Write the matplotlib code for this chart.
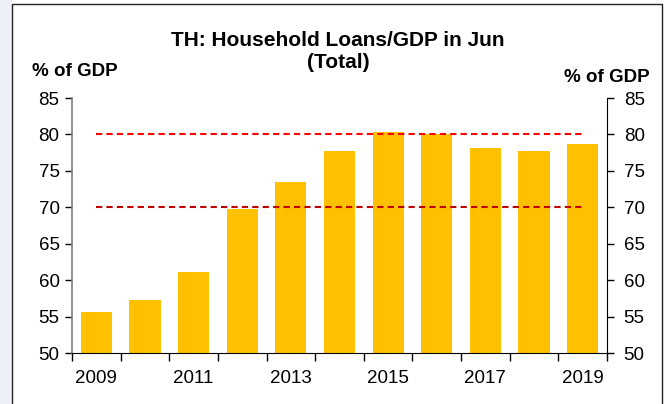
import matplotlib.pyplot as plt
import numpy as np
from matplotlib.patches import Rectangle

plt.rcParams['font.family'] = ['Liberation Sans', 'DejaVu Sans']

years = [2009, 2010, 2011, 2012, 2013, 2014, 2015, 2016, 2017, 2018, 2019]
loans_gdp = [55.6, 57.3, 61.1, 69.7, 73.5, 77.7, 80.4, 80.0, 78.1, 77.7, 78.7]
year_labels = ['2009', '2011', '2013', '2015', '2017', '2019']
y_ticks = [50, 55, 60, 65, 70, 75, 80, 85]
line_high = 80
line_low = 70

fig = plt.figure(figsize=(6.7, 4.04), dpi=100)
fig.patch.set_facecolor('white')

# pale strip left of the frame, and the frame itself
fig.patches.append(Rectangle((0, 0), 12 / 670, 1, transform=fig.transFigure,
                             facecolor='#eef0f7', edgecolor='none', zorder=-10))
fig.patches.append(Rectangle((12 / 670, -0.05), 650 / 670, 1.04, transform=fig.transFigure,
                             facecolor='white', edgecolor='#222222', linewidth=1.0, zorder=-10))

ax = fig.add_axes([72 / 670, 1 - 353 / 404, 535 / 670, 255 / 404])
ax.set_zorder(1)
ax.patch.set_visible(False)
x = np.arange(len(years))
ax.bar(x, loans_gdp, width=0.64, color='#FFC000', zorder=2)

ax.plot([x[0], x[-1]], [line_high, line_high], color='#FF0000', linestyle=(0, (3, 2)),
        linewidth=1.5, zorder=3)
ax.plot([x[0], x[-1]], [line_low, line_low], color='#C00000', linestyle=(0, (3, 2)),
        linewidth=1.5, zorder=3)

ax.set_xlim(-0.5, len(years) - 0.5)
ax.set_ylim(50, 85)
ax.set_yticks(y_ticks)
ax.tick_params(axis='y', direction='out', length=5, width=1, labelsize=13.5, pad=4, colors='black')

# boundary ticks, labels on centers of every other year
ax.set_xticks(np.arange(len(years) + 1) - 0.5)
ax.set_xticklabels([])
ax.tick_params(axis='x', which='major', direction='out', length=6, width=1)
ax.set_xticks(x[::2], minor=True)
ax.set_xticklabels(year_labels, minor=True)
ax.tick_params(axis='x', which='minor', length=0, labelsize=13.5, pad=12)

ax.spines['top'].set_visible(False)
ax.spines['right'].set_visible(False)
ax.spines['left'].set_color('#808080')
ax.spines['left'].set_linewidth(1.2)
ax.spines['bottom'].set_color('black')

ax2 = ax.twinx()
ax2.set_zorder(2)
ax2.patch.set_visible(False)
ax2.set_ylim(50, 85)
ax2.set_yticks(y_ticks)
ax2.tick_params(axis='y', direction='out', length=5, width=1, labelsize=13.5, pad=7)
for s in ['top', 'left', 'bottom']:
    ax2.spines[s].set_visible(False)
ax2.spines['right'].set_color('black')

fig.text(338 / 670, 1 - 41 / 404, 'TH: Household Loans/GDP in Jun', ha='center', va='center',
         fontsize=15, fontweight='bold')
fig.text(338 / 670, 1 - 63 / 404, '(Total)', ha='center', va='center',
         fontsize=15, fontweight='bold')
fig.text(32 / 670, 1 - 72 / 404, '% of GDP', ha='left', va='center',
         fontsize=13.5, fontweight='bold')
fig.text(650 / 670, 1 - 77 / 404, '% of GDP', ha='right', va='center',
         fontsize=13.5, fontweight='bold')

fig.savefig('out.png', dpi=100)
